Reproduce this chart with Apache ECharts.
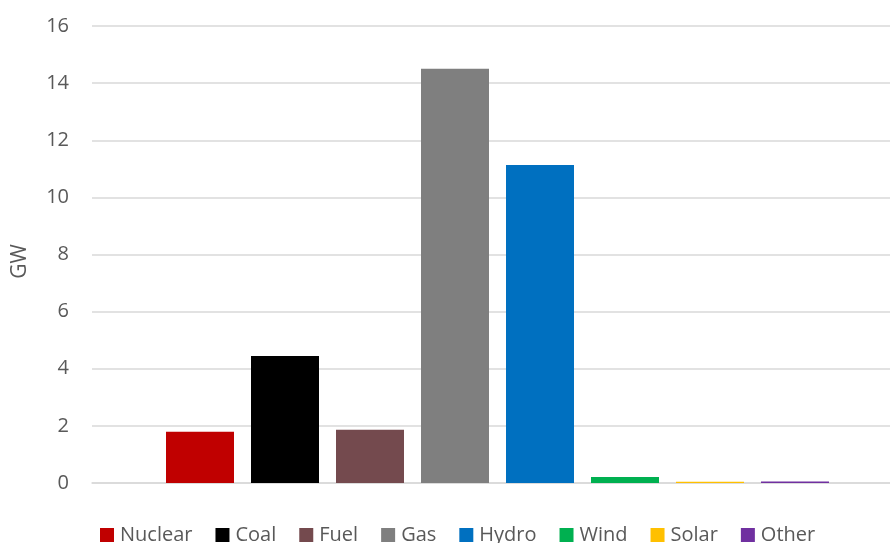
<!DOCTYPE html>
<html>
<head>
<meta charset="utf-8">
<script src="https://cdn.jsdelivr.net/npm/echarts@6/dist/echarts.min.js"></script>
<style>html,body{margin:0;padding:0;background:#fff;overflow:hidden;width:890px;height:543px;}#c{width:903px;height:543px;}</style>
</head>
<body>
<div id="c"></div>
<script>
const categories = ['Nuclear', 'Coal', 'Fuel', 'Gas', 'Hydro', 'Wind', 'Solar', 'Other'];
const values = [1.79, 4.45, 1.86, 14.5, 11.13, 0.21, 0.04, 0.05];
const colors = ['#C00000', '#000000', '#744A4E', '#7F7F7F', '#0070C0', '#00B050', '#FFC000', '#7030A0'];
const yTicks = [0, 2, 4, 6, 8, 10, 12, 14, 16];

const FONT = '"Open Sans", sans-serif';
const chart = echarts.init(document.getElementById('c'), null, {renderer: 'canvas'});
chart.setOption({
  animation: false,
  backgroundColor: '#ffffff',
  grid: {left: 92, right: 0, top: 26, height: 457, containLabel: false},
  legend: {
    data: categories,
    bottom: -7,
    left: 95,
    itemWidth: 14,
    itemHeight: 14,
    itemGap: 23,
    icon: 'rect',
    textStyle: {fontFamily: FONT, fontSize: 20, color: '#595959', padding: [0, 0, 0, 1]}
  },
  graphic: [{
    type: 'text',
    left: 10,
    top: 244,
    rotation: Math.PI / 2,
    style: {text: 'GW', fontFamily: FONT, fontSize: 21, fill: '#595959'}
  }],
  xAxis: {
    type: 'category',
    data: [''],
    axisLine: {show: true, lineStyle: {color: '#d9d9d9', width: 1.5}},
    axisTick: {show: false},
    axisLabel: {show: false},
    splitLine: {show: false}
  },
  yAxis: {
    type: 'value',
    min: yTicks[0],
    max: yTicks[yTicks.length - 1],
    interval: 2,
    axisLine: {show: false},
    axisTick: {show: false},
    axisLabel: {fontFamily: FONT, fontSize: 20, color: '#595959', margin: 23},
    splitLine: {show: true, lineStyle: {color: '#d9d9d9', width: 1.5}}
  },
  series: categories.map((name, i) => ({
    name: name,
    type: 'bar',
    data: [values[i]],
    barWidth: 68,
    barGap: '25%',
    itemStyle: {color: colors[i]}
  }))
});
</script>
</body>
</html>
